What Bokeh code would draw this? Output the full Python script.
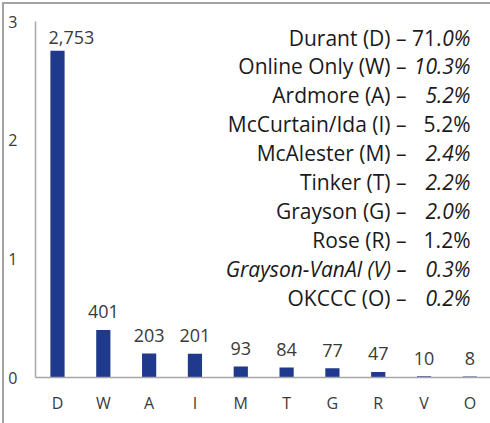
from bokeh.plotting import figure
from bokeh.layouts import column
from bokeh.models import ColumnDataSource, FixedTicker, Range1d, GlobalInlineStyleSheet
from bokeh.core.properties import value
from bokeh.embed import file_html
from bokeh.resources import INLINE

# ---- data ----
codes = ["D", "W", "A", "I", "M", "T", "G", "R", "V", "O"]
counts = [2753, 401, 203, 201, 93, 84, 77, 47, 10, 8]
y_ticks = [0, 1000, 2000, 3000]
y_tick_labels = ["0", "1", "2", "3"]
campus_names = ["Durant (D) \u2013", "Online Only (W) \u2013", "Ardmore (A) \u2013",
                "McCurtain/Ida (I) \u2013", "McAlester (M) \u2013", "Tinker (T) \u2013",
                "Grayson (G) \u2013", "Rose (R) \u2013", "Grayson-VanAl (V) \u2013",
                "OKCCC (O) \u2013"]
shares = ["71.0%", "10.3%", "5.2%", "5.2%", "2.4%", "2.2%", "2.0%", "1.2%", "0.3%", "0.2%"]
name_styles = ["normal"] * 8 + ["italic", "normal"]
share_styles = ["mixed", "italic", "italic", "normal", "italic", "italic",
                "italic", "normal", "italic", "italic"]

# ---- styles ----
BAR = "#1f3a8c"
AXIS = "#a6a6a6"
FRAME = "#a3a3a3"
TXT = "#3a3a3a"
LEG = "#1a1a1a"
FONT = "Open Sans"
X_START, X_END = -0.48, 9.45
NAME_PX, PCT_PX = 371, 435        # right edges, px from frame left
ROW0_PX, ROW_STEP = 16, 28.9       # baseline offsets below frame top

p = figure(width=486, height=419, x_range=Range1d(X_START, X_END),
           y_range=Range1d(y_ticks[0], y_ticks[-1]),
           output_backend="svg", toolbar_location=None,
           min_border_left=31, min_border_right=0, min_border_top=17,
           min_border_bottom=46)
p.margin = (4, 0, 0, 4)
p.outline_line_color = None
p.xgrid.grid_line_color = None
p.ygrid.grid_line_color = None
p.background_fill_color = "white"
p.border_fill_color = "white"

idx = list(range(len(codes)))
lab_dx = [14] + [0] * (len(codes) - 1)
lab_dy = [-13] + [-18] * (len(codes) - 1)
src = ColumnDataSource(dict(x=idx, top=counts, lab=[f"{c:,}" for c in counts],
                            dx=lab_dx, dy=lab_dy))
p.vbar(x="x", top="top", bottom=0, width=0.31, source=src,
       fill_color=BAR, line_color=None)
p.text(x="x", y="top", text="lab", source=src, text_align="center",
       text_baseline="alphabetic", x_offset="dx", y_offset="dy", text_color=TXT,
       text_font=value(FONT), text_font_size="18px")

# legend-like text block
nx, ny, nt, nst, noff, nyo = [], [], [], [], [], []
for i, (n, st) in enumerate(zip(campus_names, name_styles)):
    nx.append(X_START); ny.append(y_ticks[-1]); nt.append(n); nst.append(st)
    noff.append(NAME_PX); nyo.append(ROW0_PX + ROW_STEP * i)
for i, (s, st) in enumerate(zip(shares, share_styles)):
    yo = ROW0_PX + ROW_STEP * i
    if st == "mixed":
        head, tail = s[:-2], s[-2:]
        for t, sty, off in ((tail, "italic", PCT_PX), (head, "normal", PCT_PX - 29)):
            nx.append(X_START); ny.append(y_ticks[-1]); nt.append(t); nst.append(sty)
            noff.append(off); nyo.append(yo)
    else:
        nx.append(X_START); ny.append(y_ticks[-1]); nt.append(s); nst.append(st)
        noff.append(PCT_PX); nyo.append(yo)
lsrc = ColumnDataSource(dict(x=nx, y=ny, t=nt, st=nst, xo=noff, yo=nyo))
p.text(x="x", y="y", text="t", source=lsrc, x_offset="xo", y_offset="yo",
       text_font_style="st", text_align="right", text_baseline="alphabetic",
       text_color=LEG, text_font=value(FONT), text_font_size="21px")

# axes
p.xaxis.ticker = FixedTicker(ticks=idx)
p.xaxis.major_label_overrides = {i: c for i, c in zip(idx, codes)}
p.yaxis.ticker = FixedTicker(ticks=y_ticks)
p.yaxis.major_label_overrides = {t: l for t, l in zip(y_ticks, y_tick_labels)}
for ax in (p.xaxis, p.yaxis):
    ax.axis_line_color = AXIS
    ax.axis_line_width = 1.5
    ax.major_tick_line_color = None
    ax.minor_tick_line_color = None
    ax.major_label_text_font = FONT
    ax.major_label_text_font_size = "16px"
    ax.major_label_text_color = TXT
p.xaxis.major_label_standoff = 8
p.yaxis.major_label_standoff = 12

# outer chart frame: top and left edges only, painted behind the figure
g = f"linear-gradient({FRAME},{FRAME})"
layout = column(p, styles={"background": (
    f"{g} 2px 2px / 2px calc(100% - 2px) no-repeat, "
    f"{g} 2px 2px / calc(100% - 2px) 2px no-repeat, white")},
    stylesheets=[GlobalInlineStyleSheet(css="html, body { overflow: hidden; }")])

open("out.html", "w").write(file_html(layout, INLINE))
